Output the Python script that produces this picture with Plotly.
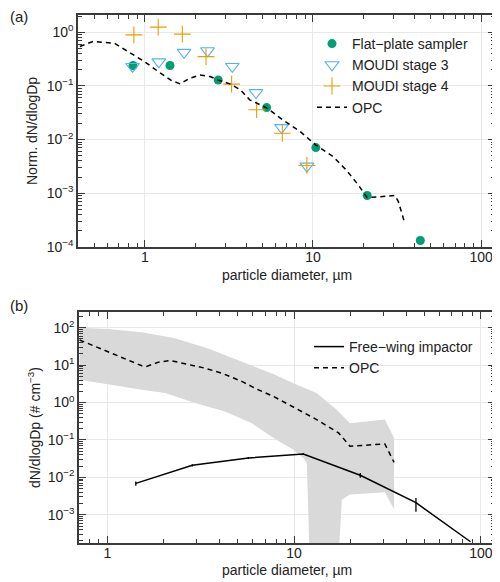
import plotly.graph_objects as go
import numpy as np

# ---------------- Panel (a) data ----------------
flat_d = [0.85, 1.41, 2.73, 5.3, 10.4, 21.0, 43.5]
flat_v = [0.24, 0.24, 0.129, 0.0394, 0.0071, 0.00091, 0.000132]

m3_d = [0.845, 1.21, 1.71, 2.36, 3.31, 4.58, 6.5, 9.2]
m3_v = [0.23, 0.28, 0.42, 0.45, 0.23, 0.075, 0.0167, 0.0032]

m4_d = [0.86, 1.2, 1.67, 2.31, 3.28, 4.62, 6.57, 9.2]
m4_v = [0.89, 1.24, 0.92, 0.35, 0.108, 0.036, 0.0131, 0.0033]

opc_a_d = [0.41, 0.49, 0.66, 0.80, 1.0, 1.2, 1.44, 1.62, 1.85, 2.13, 2.44, 2.73, 3.2, 3.71,
           4.2, 5.3, 6.65, 8.4, 10.4, 13.2, 15.8, 18.6, 21.0, 25.0, 30.7, 32.2, 34.9]
opc_a_v = [0.54, 0.67, 0.62, 0.435, 0.28, 0.185, 0.126, 0.109, 0.139, 0.16, 0.149, 0.129, 0.109, 0.084,
           0.055, 0.039, 0.023, 0.0141, 0.0079, 0.0048, 0.0027, 0.00143, 0.00083, 0.00086, 0.00091, 0.0007, 0.0003]

# ---------------- Panel (b) data ----------------
fw_d = [1.42, 2.85, 5.69, 11.2, 22.6, 44.9, 88.0]
fw_v = [0.0069, 0.021, 0.033, 0.042, 0.0114, 0.0021, 0.00019]
fw_err_plus = [0.0009, 0.0015, 0.002, 0.002, 0.0017, 0.0007, 0.0]
fw_err_minus = [0.0009, 0.0015, 0.002, 0.002, 0.0017, 0.0009, 0.0]

opc_b_d = [0.71, 1.0, 1.30, 1.53, 1.62, 1.88, 2.17, 2.72, 3.33, 4.1, 5.25, 6.3, 7.76,
           9.9, 13.2, 17.3, 18.8, 19.9, 30.6, 32.0, 34.3]
opc_b_v = [47, 23, 13, 9.6, 9.2, 12, 13.3, 10.2, 8.3, 6.1, 3.66, 2.3, 1.45,
           0.76, 0.35, 0.154, 0.092, 0.068, 0.078, 0.05, 0.025]

band_up_d = [0.71, 1.0, 1.53, 2.3, 3.47, 5.25, 7.9, 9.9, 13.2, 16.9, 19.9, 30.6, 34.3]
band_up_v = [100, 93, 76, 52, 28, 12.5, 5.5, 3.3, 1.8, 0.64, 0.28, 0.35, 0.113]
band_lo_d = [0.71, 1.0, 1.53, 2.04, 2.95, 4.26, 5.94, 7.76, 8.1, 9.9, 11.2, 11.7, 12.4,
             16.5, 18.0, 19.9, 30.6, 34.3]
band_lo_v = [4.05, 3.1, 2.2, 1.8, 0.97, 0.58, 0.28, 0.113, 0.10, 0.055, 0.033, 0.024, 1e-6,
             1e-6, 0.0025, 0.0035, 0.004, 0.0014]

# ---------------- styling ----------------
FONT = "Liberation Sans, Arial, Helvetica, sans-serif"
GREEN = "#009E73"
BLUE = "#56B4E9"
ORANGE = "#E69F00"
AXC = "#3a3a3a"
GRID = "#e8e8e8"
TXT = "#222"

fig = go.Figure()

# Panel (a)
fig.add_trace(go.Scatter(x=flat_d, y=flat_v, mode="markers", name="Flat\u2212plate sampler",
                         marker=dict(symbol="circle", size=9, color=GREEN),
                         xaxis="x", yaxis="y", legend="legend"))
fig.add_trace(go.Scatter(x=m3_d, y=m3_v, mode="markers", name="MOUDI stage 3",
                         marker=dict(symbol="triangle-down-open", size=12, color=BLUE,
                                     line=dict(width=1.1, color=BLUE)),
                         xaxis="x", yaxis="y", legend="legend"))
fig.add_trace(go.Scatter(x=m4_d, y=m4_v, mode="markers", name="MOUDI stage 4",
                         marker=dict(symbol="cross-thin-open", size=12, color=ORANGE,
                                     line=dict(width=1.1, color=ORANGE)),
                         xaxis="x", yaxis="y", legend="legend"))
fig.add_trace(go.Scatter(x=opc_a_d, y=opc_a_v, mode="lines", name="OPC",
                         line=dict(color="black", width=1.5, dash="5px,4px"),
                         xaxis="x", yaxis="y", legend="legend"))

# Panel (b)
band_x = band_up_d + band_lo_d[::-1]
band_y = band_up_v + band_lo_v[::-1]
fig.add_trace(go.Scatter(x=band_x, y=band_y, mode="lines", fill="toself",
                         fillcolor="#d9d9d9", line=dict(width=0, color="#d9d9d9"),
                         showlegend=False, hoverinfo="skip",
                         xaxis="x2", yaxis="y2"))
fig.add_trace(go.Scatter(x=fw_d, y=fw_v, mode="lines", name="Free\u2212wing impactor",
                         line=dict(color="black", width=1.5),
                         error_y=dict(type="data", array=fw_err_plus, arrayminus=fw_err_minus,
                                      width=0, thickness=1.3, color="black"),
                         xaxis="x2", yaxis="y2", legend="legend2"))
fig.add_trace(go.Scatter(x=opc_b_d, y=opc_b_v, mode="lines", name="OPC",
                         line=dict(color="black", width=1.5, dash="5px,4px"),
                         xaxis="x2", yaxis="y2", legend="legend2"))

W, H = 500, 582
OFF = 8  # page body margin offset


def minor_vals(lo, hi):
    vals = []
    for e in range(lo, hi):
        for k in range(2, 10):
            vals.append(k * 10.0 ** e)
    return vals


def sup(p):
    s = str(p).replace("-", "\u2212")
    return "10<sup>" + s + "</sup>"


common_axis = dict(type="log", showline=True, linecolor=AXC, linewidth=1.5, mirror="allticks",
                   ticks="inside", ticklen=7, tickwidth=1.2, tickcolor=AXC,
                   showgrid=True, gridcolor=GRID, gridwidth=1, zeroline=False,
                   tickfont=dict(family=FONT, size=14, color=TXT),
                   automargin=False)

xt_vals = [1, 10, 100]
xt_text = ["1", "10", "100"]

ya_vals = [10.0 ** e for e in range(-4, 1)]
ya_text = [sup(e) for e in range(-4, 1)]
yb_vals = [10.0 ** e for e in range(-3, 3)]
yb_text = [sup(e) for e in range(-3, 3)]

px = lambda v: (v - OFF) / W
py = lambda v: 1 - (v - OFF) / H


def label(text, x, y, size=14, angle=0, xanchor="center"):
    return dict(text=text, x=px(x), y=py(y), xref="paper", yref="paper", xanchor=xanchor,
                yanchor="middle", showarrow=False, textangle=angle,
                font=dict(family=FONT, size=size, color=TXT))


fig.update_layout(
    width=W, height=H,
    margin=dict(l=0, r=0, t=0, b=0),
    paper_bgcolor="white", plot_bgcolor="white",
    font=dict(family=FONT, size=14, color=TXT),
    xaxis=dict(common_axis, domain=[px(78), px(495)], anchor="y",
               range=[np.log10(0.4), np.log10(121)], ticklabelstandoff=-4,
               tickmode="array", tickvals=xt_vals, ticktext=xt_text,
               minor=dict(ticks="inside", ticklen=4, tickcolor=AXC, tickwidth=1,
                          tickmode="array", tickvals=minor_vals(-1, 3), showgrid=False)),
    yaxis=dict(common_axis, domain=[py(247), py(15)], anchor="x",
               range=[-4, 0.32],
               tickmode="array", tickvals=ya_vals, ticktext=ya_text,
               minor=dict(ticks="inside", ticklen=4, tickcolor=AXC, tickwidth=1,
                          tickmode="array", tickvals=minor_vals(-4, 1), showgrid=False)),
    xaxis2=dict(common_axis, domain=[px(79), px(495)], anchor="y2",
                range=[np.log10(0.705), np.log10(119)], ticklabelstandoff=-4,
                tickmode="array", tickvals=xt_vals, ticktext=xt_text,
                minor=dict(ticks="inside", ticklen=4, tickcolor=AXC, tickwidth=1,
                           tickmode="array", tickvals=minor_vals(-1, 3), showgrid=False)),
    yaxis2=dict(common_axis, domain=[py(543), py(312)], anchor="x2",
                range=[-3.755, 2.42],
                tickmode="array", tickvals=yb_vals, ticktext=yb_text,
                minor=dict(ticks="inside", ticklen=4, tickcolor=AXC, tickwidth=1,
                           tickmode="array", tickvals=minor_vals(-4, 3), showgrid=False)),
    legend=dict(x=px(312), y=py(28), xanchor="left", yanchor="top",
                bgcolor="rgba(0,0,0,0)", font=dict(family=FONT, size=14, color=TXT),
                itemwidth=30, tracegroupgap=0),
    legend2=dict(x=px(309), y=py(331), xanchor="left", yanchor="top",
                 bgcolor="rgba(0,0,0,0)", font=dict(family=FONT, size=14, color=TXT),
                 itemwidth=30, tracegroupgap=0),
    annotations=[
        label("(a)", OFF, 17, size=15, xanchor="left"),
        label("(b)", OFF, 305, size=15, xanchor="left"),
        label("particle diameter, \u00b5m", 286.5, 275),
        label("particle diameter, \u00b5m", 287, 570),
        label("Norm. dN/dlogDp", 32, 131, angle=-90),
        label("dN/dlogDp (# cm<sup>\u22123</sup>)", 34, 428, angle=-90),
    ],
)

fig.write_html("out.html")
